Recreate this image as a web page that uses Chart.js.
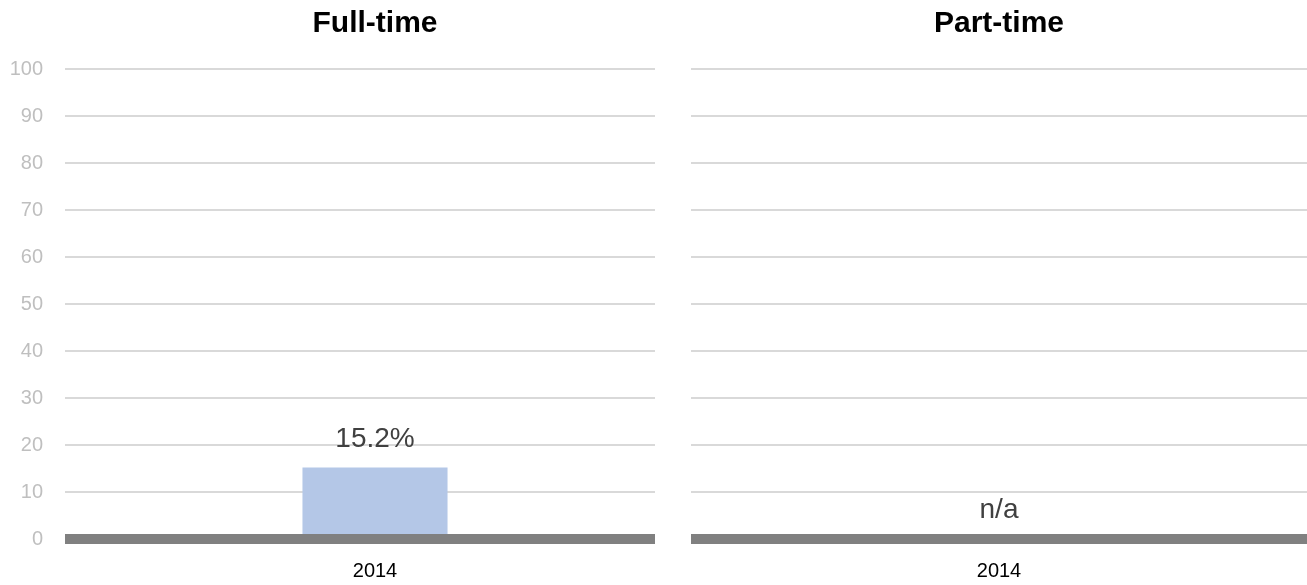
<!DOCTYPE html>
<html>
<head>
<meta charset="utf-8">
<script src="https://cdn.jsdelivr.net/npm/chart.js@4.4.1/dist/chart.umd.min.js"></script>
<style>
    html, body { margin: 0; padding: 0; background: #fff; }
    body { width: 1307px; height: 585px; position: relative; overflow: hidden; }
    .box { position: absolute; top: 0; height: 585px; background: #fff; }
    #leftBox { left: 0; width: 690px; }
    #rightBox { left: 655px; width: 652px; }
</style>
</head>
<body>
<div class="box" id="leftBox"><canvas id="fullChart"></canvas></div>
<div class="box" id="rightBox"><canvas id="partChart"></canvas></div>
<script>
// Chart data
const years = ['2014'];
const fullTimeValues = [15.2];
const fullTimeLabels = ['15.2%'];
const partTimeValues = [null];
const partTimeLabels = ['n/a'];
const yTicks = [0, 10, 20, 30, 40, 50, 60, 70, 80, 90, 100];

const FONT = "'Liberation Sans', Arial, sans-serif";

// thick grey zero line plus the value text above each bar
const valueLabels = {
    id: 'valueLabels',
    afterDatasetsDraw(chart, args, opts) {
        const { ctx, scales, chartArea } = chart;
        const values = chart.data.datasets[0].data;
        const zero = scales.y.getPixelForValue(0);
        ctx.save();
        ctx.fillStyle = '#808080';
        ctx.fillRect(chartArea.left, zero - 5, opts.lineEnd - chartArea.left, 10);

        ctx.font = '28px ' + FONT;
        ctx.fillStyle = '#404040';
        ctx.textAlign = 'center';
        ctx.textBaseline = 'alphabetic';
        values.forEach((v, i) => {
            const x = scales.x.getPixelForValue(i);
            const y = scales.y.getPixelForValue(v == null ? 0 : v);
            ctx.fillText(opts.texts[i], x, y - 21);
        });
        ctx.restore();
    }
};

function makeOptions(title, texts, yWidth, lineEnd, padding) {
    return {
        responsive: true,
        maintainAspectRatio: false,
        animation: false,
        layout: { padding: padding },
        plugins: {
            legend: { display: false },
            tooltip: { enabled: false },
            title: {
                display: true,
                fullSize: false,
                text: title,
                color: '#000',
                font: { family: FONT, size: 30, weight: 'bold' },
                padding: { top: 0, bottom: 27 }
            },
            valueLabels: { texts: texts, lineEnd: lineEnd }
        },
        scales: {
            x: {
                grid: { display: false, drawTicks: false },
                border: { display: false },
                afterFit: s => { s.height = 46; },
                ticks: {
                    color: '#000',
                    padding: 20,
                    font: { family: FONT, size: 20 }
                }
            },
            y: {
                min: 0,
                max: 100,
                afterBuildTicks: s => { s.ticks = yTicks.map(v => ({ value: v })); },
                afterFit: s => { s.width = yWidth; },
                grid: { color: '#d9d9d9', lineWidth: 2, drawTicks: false },
                border: { display: false },
                ticks: {
                    display: yWidth > 0,
                    color: '#bfbfbf',
                    padding: 22,
                    font: { family: FONT, size: 20 }
                }
            }
        }
    };
}

new Chart(document.getElementById('fullChart'), {
    type: 'bar',
    data: {
        labels: years,
        datasets: [{
            data: fullTimeValues,
            backgroundColor: '#b4c7e7',
            barPercentage: 0.234,
            categoryPercentage: 1
        }]
    },
    options: makeOptions('Full-time', fullTimeLabels, 55, 655, { top: 6, left: 10, right: 5, bottom: 0 }),
    plugins: [valueLabels]
});

new Chart(document.getElementById('partChart'), {
    type: 'bar',
    data: {
        labels: years,
        datasets: [{
            data: partTimeValues,
            backgroundColor: '#b4c7e7',
            barPercentage: 0.234,
            categoryPercentage: 1
        }]
    },
    options: makeOptions('Part-time', partTimeLabels, 0, 652, { top: 6, left: 36, right: 0, bottom: 0 }),
    plugins: [valueLabels]
});
</script>
</body>
</html>
